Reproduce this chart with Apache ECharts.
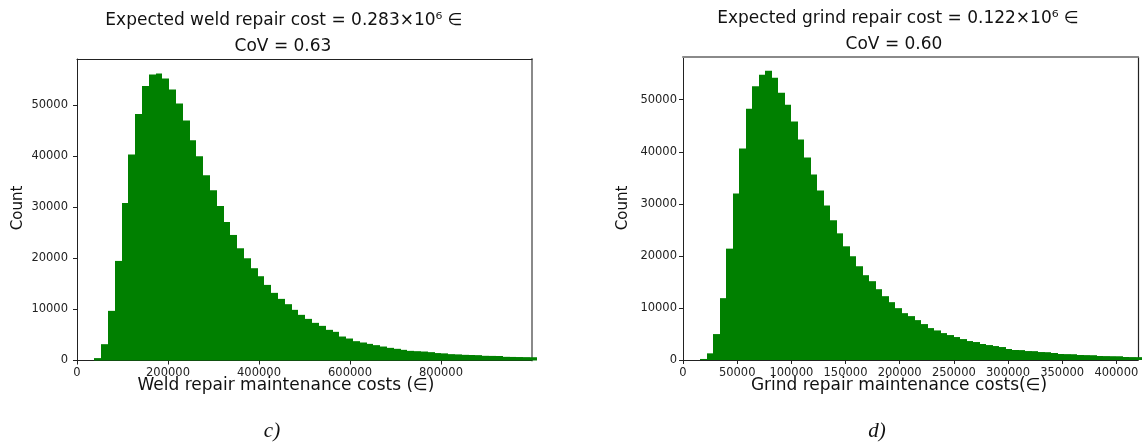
<!DOCTYPE html>
<html>
<head>
<meta charset="utf-8">
<script src="https://cdn.jsdelivr.net/npm/echarts@6/dist/echarts.min.js"></script>
<style>
  html, body { margin: 0; padding: 0; background: #fff; }
  #chart { width: 1142px; height: 444px; }
</style>
</head>
<body>
<div id="chart"></div>
<script>
// weld repair histogram (c)
var weldBinStart = 38000;
var weldBinWidth = 14960;
var weldCounts = [470, 3200, 9730, 19520, 30880, 40400, 48300, 53790, 56070, 56260,
  55290, 53130, 50390, 47060, 43150, 40020, 36300, 33360, 30290, 27160,
  24610, 22000, 20040, 18090, 16520, 14820, 13260, 12080, 11040, 9930,
  8950, 8160, 7380, 6790, 6010, 5620, 4700, 4310, 3790, 3530,
  3260, 3010, 2740, 2480, 2290, 2090, 1890, 1830, 1760, 1640,
  1460, 1400, 1250, 1200, 1110, 1080, 1050, 920, 900, 880,
  720, 700, 680, 660, 640];
var weldXTicks = [0, 200000, 400000, 600000, 800000];

// grind repair histogram (d)
var grindBinStart = 16000;
var grindBinWidth = 6000;
var grindCounts = [200, 1280, 4980, 11880, 21390, 32000, 40620, 48280, 52560, 54800,
  55560, 54220, 51350, 49050, 45790, 42340, 38900, 35640, 32570, 29700,
  26820, 24330, 21840, 19930, 18010, 16290, 15140, 13600, 12260, 11110,
  9960, 9000, 8430, 7660, 6900, 6130, 5680, 5170, 4790, 4410,
  4020, 3640, 3450, 3070, 2870, 2680, 2490, 2110, 1920, 1900,
  1720, 1700, 1530, 1500, 1340, 1150, 1130, 1110, 960, 940,
  920, 770, 750, 730, 720, 575, 560, 550];
var grindXTicks = [0, 50000, 100000, 150000, 200000, 250000, 300000, 350000, 400000];

var countTicks = [0, 10000, 20000, 30000, 40000, 50000];

var weldTitle = ['Expected weld repair cost = 0.283×10⁶ ∈', 'CoV = 0.63'];
var grindTitle = ['Expected grind repair cost = 0.122×10⁶ ∈', 'CoV = 0.60'];
var xNames = ['Weld repair maintenance costs (∈)', 'Grind repair maintenance costs(∈)'];
var captions = ['c)', 'd)'];

var font = 'DejaVu Sans';
var green = '#008000';
var dark = '#222';
var grey = '#8a8a8a';

function toBins(start, width, counts) {
  var out = [];
  for (var i = 0; i < counts.length; i++) {
    out.push([start + i * width, start + (i + 1) * width, counts[i]]);
  }
  return out;
}

function renderBar(params, api) {
  var p0 = api.coord([api.value(0), api.value(2)]);
  var p1 = api.coord([api.value(1), 0]);
  var x0 = Math.round(p0[0]), x1 = Math.round(p1[0]);
  return {
    type: 'rect',
    shape: { x: x0, y: p0[1], width: x1 - x0, height: p1[1] - p0[1] },
    style: { fill: green }
  };
}

function plain(v) { return String(v); }

function bottomAxis(grid, max, ticks, margin) {
  return {
    type: 'value', gridIndex: grid, position: 'bottom', min: 0, max: max,
    axisLine: { show: true, onZero: false, lineStyle: { color: dark, width: 1 } },
    axisTick: { show: true, length: 4, customValues: ticks, lineStyle: { color: dark } },
    axisLabel: { margin: margin, fontFamily: font, fontSize: 11.5, color: dark,
      customValues: ticks, formatter: plain },
    splitLine: { show: false }
  };
}

function leftAxis(grid, max, margin) {
  return {
    type: 'value', gridIndex: grid, position: 'left', min: 0, max: max,
    axisLine: { show: true, lineStyle: { color: dark, width: 1 } },
    axisTick: { show: true, length: 4, customValues: countTicks, lineStyle: { color: dark } },
    axisLabel: { margin: margin, fontFamily: font, fontSize: 11.5, color: dark,
      customValues: countTicks, formatter: plain },
    splitLine: { show: false }
  };
}

function frameAxis(grid, pos, color, width, max) {
  return {
    type: 'value', gridIndex: grid, position: pos, min: 0, max: max,
    axisLine: { show: true, onZero: false, lineStyle: { color: color, width: width } },
    axisTick: { show: false }, axisLabel: { show: false }, splitLine: { show: false }
  };
}

function text(str, x, y, size, extra) {
  var style = { text: str, x: 0, y: 0, fill: '#111', fontFamily: font, fontSize: size,
    textAlign: 'center', textVerticalAlign: 'middle' };
  for (var k in extra) style[k] = extra[k];
  return { type: 'text', x: x, y: y, style: style, silent: true };
}

var myChart = echarts.init(document.getElementById('chart'));

var countLeft = text('Count', 18.5, 208, 15);
countLeft.rotation = Math.PI / 2;
var countRight = text('Count', 623.5, 208, 15);
countRight.rotation = Math.PI / 2;

var option = {
  animation: false,
  backgroundColor: '#fff',
  grid: [
    { left: 77, top: 59, width: 455, height: 301.5 },
    { left: 683, top: 57, width: 455, height: 303 }
  ],
  xAxis: [
    bottomAxis(0, 1000000, weldXTicks, 7),
    frameAxis(0, 'top', dark, 1.2, 1000000),
    bottomAxis(1, 420000, grindXTicks, 7),
    frameAxis(1, 'top', grey, 2, 420000)
  ],
  yAxis: [
    leftAxis(0, 59100, 9),
    frameAxis(0, 'right', grey, 2, 59100),
    leftAxis(1, 58200, 6),
    frameAxis(1, 'right', dark, 1.2, 58200)
  ],
  series: [
    {
      type: 'custom', xAxisIndex: 0, yAxisIndex: 0, clip: false,
      renderItem: renderBar, data: toBins(weldBinStart, weldBinWidth, weldCounts)
    },
    {
      type: 'custom', xAxisIndex: 2, yAxisIndex: 2, clip: false,
      renderItem: renderBar, data: toBins(grindBinStart, grindBinWidth, grindCounts)
    }
  ],
  graphic: [
    text(weldTitle[0], 284, 21, 17),
    text(weldTitle[1], 283, 47, 17),
    text(grindTitle[0], 898, 19, 17),
    text(grindTitle[1], 894, 45, 17),
    text(xNames[0], 286, 386, 17),
    text(xNames[1], 899, 386, 17),
    countLeft,
    countRight,
    text(captions[0], 272, 431, 21, { fontFamily: 'Liberation Serif', fontStyle: 'italic' }),
    text(captions[1], 877, 431, 21, { fontFamily: 'Liberation Serif', fontStyle: 'italic' })
  ]
};

myChart.setOption(option);
</script>
</body>
</html>
